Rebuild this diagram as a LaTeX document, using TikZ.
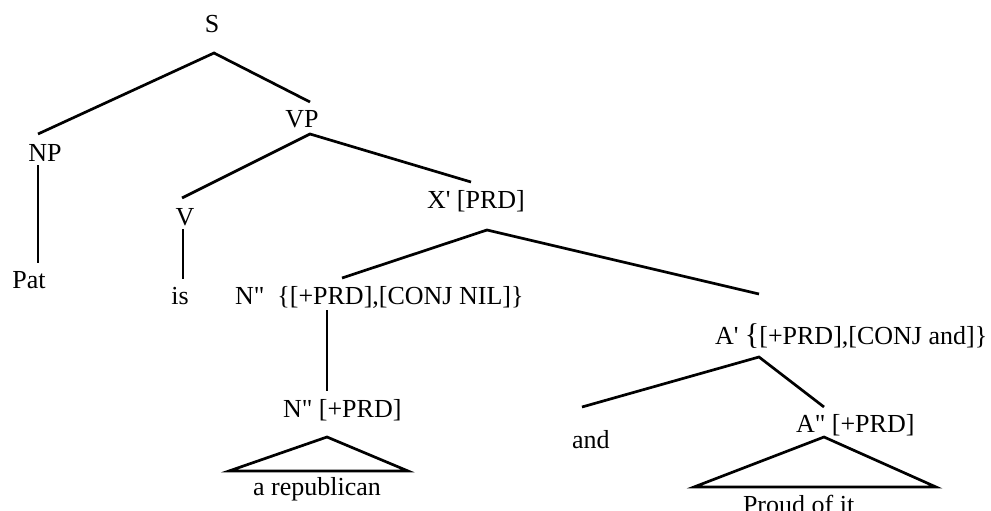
\documentclass[tikz,border=0pt]{standalone}
\usepackage{fontspec}
\newfontfamily\treefont{Liberation Serif}[Ligatures=TeXOff]
\begin{document}
\begin{tikzpicture}[x=1pt,y=-1pt,
  lbl/.style={inner sep=0pt, outer sep=0pt, anchor=base,
    font=\treefont\fontsize{26}{26}\selectfont},
  lblw/.style={lbl, anchor=base west},
  branch/.style={line width=2.7pt, line cap=butt},
  roof/.style={line width=2.7pt, line join=miter}]
\useasboundingbox (0,0) rectangle (991,511);

% category labels and words
\node[lbl]  (S)    at (212,33)  {S};
\node[lbl]  (NP)   at (45,161)  {NP};
\node[lbl]  (VP)   at (302,128) {VP};
\node[lbl]  (Pat)  at (29,288)  {Pat};
\node[lbl]  (V)    at (185,225) {V};
\node[lbl]  (is)   at (180,304) {is};
\node[lblw] (Xbar) at (427,208) {X' [PRD]};
\node[lblw] (Nconj) at (235,304) {N"~~\{[+PRD],[CONJ NIL]\}};
\node[lblw] (Nprd) at (283,417) {N" [+PRD]};
\node[lbl]  (rep)  at (317,495) {a republican};
\node[lblw] (Aconj) at (715,344) {A' {\fontsize{30}{30}\selectfont\{}[+PRD],[CONJ and]\}};
\node[lblw] (and)  at (572,448) {and};
\node[lblw] (Aprd) at (796,432) {A" [+PRD]};
\node[lblw] (proud) at (743,513) {Proud of it};

% branch end points
\coordinate (S-b)    at (214,53);
\coordinate (NP-t)   at (38,134);
\coordinate (NP-b)   at (38,165);
\coordinate (Pat-t)  at (38,263);
\coordinate (VP-t)   at (310,102);
\coordinate (VP-b)   at (310,134);
\coordinate (V-t)    at (182,198);
\coordinate (V-b)    at (183,229);
\coordinate (is-t)   at (183,279);
\coordinate (X-t)    at (471,182);
\coordinate (X-b)    at (487,230);
\coordinate (Nc-t)   at (342,278);
\coordinate (Nc-b)   at (327,310);
\coordinate (Np-t)   at (327,391);
\coordinate (Np-b)   at (327,437);
\coordinate (rep-l)  at (229,471);
\coordinate (rep-r)  at (408,471);
\coordinate (Ac-t)   at (759,294);
\coordinate (Ac-b)   at (759,357);
\coordinate (and-t)  at (582,407);
\coordinate (Ap-t)   at (824,407);
\coordinate (Ap-b)   at (824,437);
\coordinate (pr-l)   at (694,487);
\coordinate (pr-r)   at (936,487);

% branches
\draw[branch] (NP-t) -- (S-b) -- (VP-t);
\draw[branch] (NP-b) -- (Pat-t);
\draw[branch] (V-t) -- (VP-b) -- (X-t);
\draw[branch] (V-b) -- (is-t);
\draw[branch] (Nc-t) -- (X-b) -- (Ac-t);
\draw[branch] (Nc-b) -- (Np-t);
\draw[branch] (and-t) -- (Ac-b) -- (Ap-t);

% roofs over unanalysed phrases
\draw[roof] (Np-b) -- (rep-l) -- (rep-r) -- cycle;
\draw[roof] (Ap-b) -- (pr-l) -- (pr-r) -- cycle;
\end{tikzpicture}
\end{document}
